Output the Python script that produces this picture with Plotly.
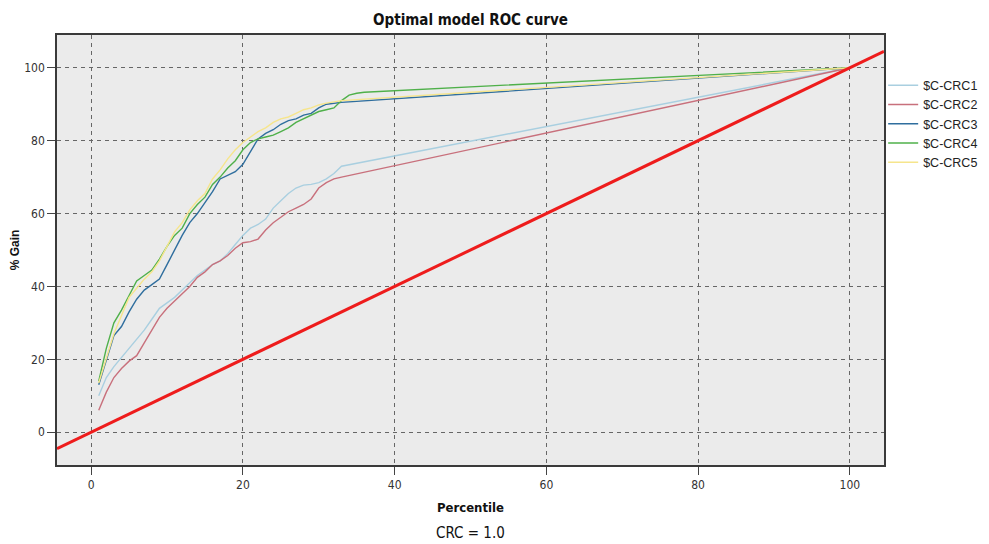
import plotly.graph_objects as go

percentile_a = list(range(1, 34)) + [100]
percentile_g = list(range(1, 37)) + [100]

crc1 = [10, 15, 18, 20.5, 23, 25.5, 28, 31, 34, 35.5, 37, 39, 41, 43, 44.5, 46, 47, 49, 51.5, 54,
        56, 57, 58.5, 61.5, 63.5, 65.5, 67, 67.8, 68, 68.5, 69.5, 71, 73, 100]
crc2 = [6, 11, 15, 17.5, 19.5, 21, 24.5, 28, 31.5, 34, 36, 38, 40, 42.5, 44, 46, 47, 48.5, 50.5, 52,
        52.3, 53, 55.5, 57.5, 59, 60.5, 61.5, 62.5, 64, 67, 68.5, 69.5, 70, 100]
crc3 = [13, 20, 26.5, 29, 33, 36.5, 39, 40.5, 42, 46, 50, 54, 57.5, 60, 63, 66, 69.5, 70.5, 71.5, 73.5,
        77, 80.5, 82, 83, 84.5, 85.5, 86, 87, 87.5, 89, 90, 90.3, 90.5, 100]
crc4 = [14, 23, 30, 33.5, 37.5, 41.5, 43, 44.5, 47.5, 51, 54, 56, 60, 62.5, 64.5, 68, 70, 72.5, 74.5, 77.5,
        79.5, 80.5, 81, 81.5, 82.5, 83.5, 85, 86, 87, 88, 88.5, 89, 91, 92.5, 93, 93.3, 100]
crc5 = [13.5, 20.5, 27, 32, 37, 39.5, 42, 44, 47, 51, 55, 57.5, 61, 63.5, 65.5, 69.5, 72, 75, 77.5, 79.5,
        81, 82.5, 83.5, 85, 86, 86.5, 87.5, 88.5, 89, 89.8, 90.3, 90.7, 91, 100]

diag = [-4.5, 104.5]

names = ["$C-CRC1", "$C-CRC2", "$C-CRC3", "$C-CRC4", "$C-CRC5"]
colors = ["#a9cfe0", "#c8707c", "#2f6e9e", "#4fb04a", "#f6e58c"]
series = [(percentile_a, crc1), (percentile_a, crc2), (percentile_a, crc3), (percentile_g, crc4), (percentile_a, crc5)]

fig = go.Figure()
for (xs, ys), n, c in zip(series, names, colors):
    fig.add_trace(go.Scatter(x=xs, y=ys, mode="lines", name=n, line=dict(color=c, width=1.4)))

fig.add_trace(go.Scatter(x=diag, y=diag, mode="lines", showlegend=False,
                         line=dict(color="#ee1c1c", width=3), cliponaxis=True))

narrow = "Liberation Sans Narrow, Arial Narrow, DejaVu Sans Condensed, Liberation Sans, Arial"
# page body adds an 8px offset; figure sized to fit the 989x544 window
W, H = 981, 536
fig.update_layout(
    template="none",
    width=W, height=H,
    margin=dict(l=49, r=105, t=27, b=79, autoexpand=False),
    paper_bgcolor="white", plot_bgcolor="#ebebeb",
    title=dict(text="<b>Optimal model ROC curve</b>", x=(462.5) / W, xanchor="center",
               y=1 - 12 / H, yanchor="middle", yref="container",
               font=dict(family=narrow, size=15, color="#111")),
    legend=dict(x=0.999, y=0.917, xanchor="left", yanchor="top", bgcolor="rgba(0,0,0,0)",
                font=dict(family="Liberation Sans, Arial", size=12.5, color="#222"),
                tracegroupgap=0, itemwidth=30),
    annotations=[dict(text="CRC = 1.0", x=0.5, xref="paper", y=-68 / 430, yref="paper",
                      xanchor="center", yanchor="middle", showarrow=False,
                      font=dict(family=narrow, size=15, color="#111"))],
)
axis_common = dict(showline=True, linecolor="#3a3a3a", linewidth=1.5, mirror=True, automargin=False,
                   showgrid=True, gridcolor="#666", gridwidth=1, griddash="4px,4px",
                   ticks="outside", ticklen=8, tickcolor="#444", zeroline=False,
                   tickfont=dict(family=narrow, size=12, color="#333"))
fig.update_xaxes(range=[-4.5, 104.5], tickvals=[0, 20, 40, 60, 80, 100],
                 title=dict(text="<b>Percentile</b>", font=dict(family=narrow, size=13, color="#111"), standoff=12),
                 **axis_common)
fig.update_yaxes(range=[-9, 109], tickvals=[0, 20, 40, 60, 80, 100],
                 title=dict(text="<b>% Gain</b>", font=dict(family="Liberation Sans, Arial", size=12, color="#111"), standoff=8),
                 **axis_common)

fig.write_html("out.html")
